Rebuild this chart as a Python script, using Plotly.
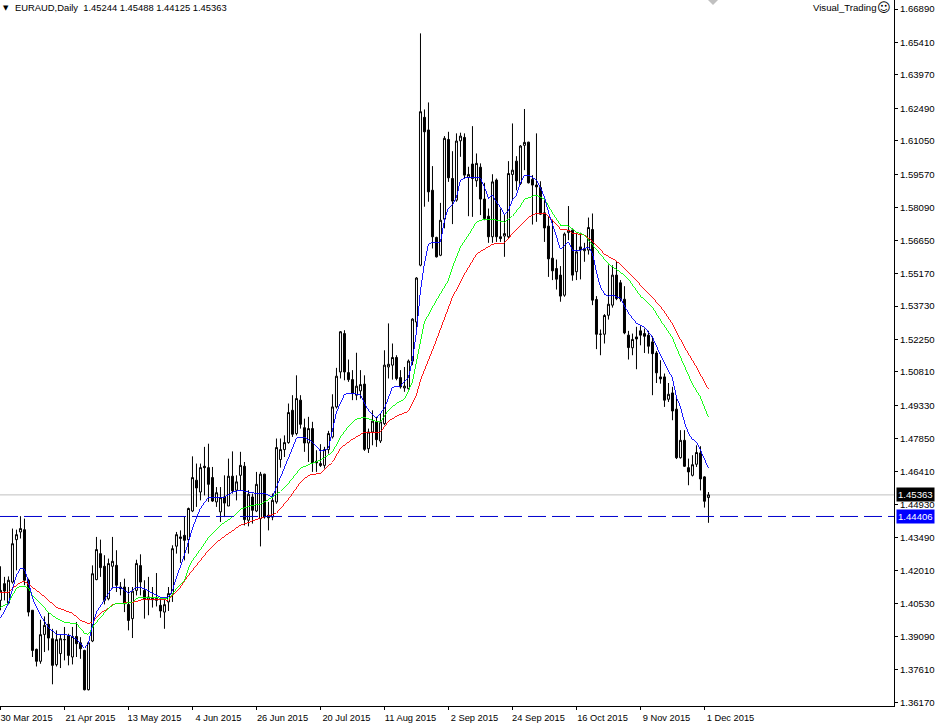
import plotly.graph_objects as go

# Daily EURAUD candles, bar by bar (oldest first)
opens = [1.4069,1.4143,1.4057,1.4150,1.4338,1.4372,1.4382,1.4158,1.4025,1.3852,1.3799,1.3918,1.3963,1.3899,1.3784,1.3833,1.3895,1.3914,1.3818,1.3909,1.3881,1.3847,1.3673,1.3889,1.4161,1.4276,1.4220,1.4076,1.4220,1.4224,1.4128,1.4128,1.4051,1.3988,1.4113,1.4223,1.4113,1.4072,1.4078,1.4069,1.4047,1.4017,1.4062,1.4099,1.4309,1.4343,1.4357,1.4338,
1.4465,1.4601,1.4549,1.4663,1.4657,1.4613,1.4505,1.4461,1.4527,1.4487,1.4619,1.4557,1.4623,1.4663,1.4424,1.4527,1.4465,1.4431,1.4628,1.4446,1.4438,1.4505,1.4693,1.4737,1.4768,1.4911,1.4808,1.4956,1.4834,1.4766,1.4830,1.4685,1.4675,1.4667,1.4737,1.4793,1.4926,1.5081,1.5251,1.5078,1.5047,1.4978,1.4997,1.5027,1.4741,1.4815,1.4860,1.4775,1.4852,1.5103,1.5111,1.5145,1.5056,1.5010,1.5007,1.5129,1.5302,
1.5554,1.6209,1.6153,1.5886,1.5677,1.5598,1.5758,1.6111,1.5938,1.5842,1.6105,1.6120,1.5943,1.6002,1.5928,1.5988,1.5847,1.5771,1.5680,1.5931,1.5680,1.5683,1.5680,1.5956,1.6015,1.5916,1.6085,1.6099,1.5934,1.5909,1.5898,1.5786,1.5727,1.5585,1.5539,1.5510,1.5421,1.5699,1.5709,1.5525,1.5635,1.5618,1.5621,1.5712,
1.5402,1.5248,1.5248,1.5332,1.5377,1.5510,1.5476,1.5403,1.5244,1.5188,1.5236,1.5263,1.5251,1.5244,1.5214,1.5165,1.5059,1.5059,1.4960,1.4988,1.4916,1.4701,1.4778,1.4657,1.4623,1.4672,1.4722,1.4616,1.45244]
highs = [1.4220,1.4173,1.4175,1.4387,1.4382,1.4442,1.4431,1.4165,1.4025,1.3855,1.3983,1.3998,1.4013,1.3943,1.3936,1.3917,1.3951,1.3921,1.3951,1.3973,1.3906,1.3850,1.3884,1.4224,1.4350,1.4338,1.4269,1.4254,1.4350,1.4291,1.4150,1.4165,1.4128,1.4128,1.4249,1.4273,1.4158,1.4173,1.4128,1.4190,1.4076,1.4072,1.4128,1.4313,1.4372,1.4379,1.4439,1.4480,
1.4707,1.4675,1.4675,1.4749,1.4763,1.4660,1.4571,1.4571,1.4623,1.4697,1.4729,1.4623,1.4727,1.4682,1.4557,1.4542,1.4638,1.4638,1.4630,1.4505,1.4542,1.4786,1.4786,1.4800,1.4941,1.4978,1.5066,1.4978,1.4874,1.4882,1.4860,1.4734,1.4761,1.4749,1.4820,1.4982,1.5099,1.5262,1.5266,1.5136,1.5089,1.5166,1.5089,1.5066,1.4830,1.4911,1.4882,1.4897,1.5177,1.5296,1.5207,1.5155,1.5089,1.5103,1.5136,1.5319,1.5501,
1.6581,1.6244,1.6275,1.5993,1.5680,1.5830,1.6126,1.6145,1.6059,1.6138,1.6141,1.6138,1.5990,1.6170,1.6049,1.6005,1.5919,1.5805,1.5957,1.5938,1.5805,1.5776,1.6015,1.6182,1.6037,1.6086,1.6246,1.6101,1.5953,1.6138,1.5926,1.5842,1.5768,1.5756,1.5579,1.5550,1.5699,1.5816,1.5717,1.5695,1.5698,1.5653,1.5765,1.5783,
1.5417,1.5269,1.5337,1.5554,1.5554,1.5573,1.5488,1.5461,1.5263,1.5251,1.5281,1.5284,1.5273,1.5263,1.5239,1.5174,1.5133,1.5074,1.5032,1.5015,1.4970,1.4823,1.4823,1.4697,1.4712,1.4756,1.4752,1.4619,1.45488]
lows = [1.4025,1.4069,1.4051,1.4143,1.4202,1.4343,1.4136,1.3998,1.3818,1.3776,1.3788,1.3840,1.3847,1.3697,1.3776,1.3769,1.3803,1.3781,1.3785,1.3818,1.3810,1.3670,1.3670,1.3884,1.4158,1.4173,1.4051,1.4069,1.4121,1.4106,1.4091,1.4017,1.3936,1.3902,1.4091,1.4091,1.3988,1.4003,1.4037,1.4042,1.3992,1.3943,1.4022,1.4062,1.4276,1.4235,1.4246,1.4276,
1.4460,1.4483,1.4512,1.4534,1.4505,1.4505,1.4483,1.4416,1.4438,1.4487,1.4542,1.4512,1.4554,1.4401,1.4397,1.4409,1.4460,1.4308,1.4431,1.4379,1.4424,1.4497,1.4657,1.4704,1.4763,1.4793,1.4800,1.4830,1.4727,1.4682,1.4638,1.4638,1.4660,1.4653,1.4719,1.4786,1.4919,1.5052,1.5044,1.5037,1.4956,1.4956,1.4963,1.4731,1.4722,1.4756,1.4749,1.4766,1.4845,1.5052,1.5047,1.5044,1.5007,1.4993,1.5003,1.5111,1.5266,
1.5549,1.5813,1.5835,1.5628,1.5588,1.5594,1.5717,1.5923,1.5736,1.5835,1.6034,1.5938,1.5771,1.5768,1.5901,1.5776,1.5753,1.5653,1.5653,1.5657,1.5657,1.5591,1.5672,1.5842,1.5886,1.5909,1.5975,1.5916,1.5734,1.5746,1.5776,1.5657,1.5502,1.5488,1.5446,1.5392,1.5414,1.5665,1.5485,1.5488,1.5491,1.5569,1.5601,1.5377,
1.5182,1.5155,1.5207,1.5313,1.5366,1.5399,1.5392,1.5248,1.5136,1.5155,1.5093,1.5199,1.5165,1.5162,1.4978,1.5032,1.5029,1.4926,1.4948,1.4867,1.4695,1.4697,1.4660,1.4579,1.4618,1.4660,1.4556,1.4480,1.44125]
closes = [1.4113,1.4110,1.4158,1.4320,1.4360,1.4387,1.4158,1.4017,1.3847,1.3799,1.3917,1.3958,1.3902,1.3781,1.3895,1.3899,1.3895,1.3825,1.3909,1.3877,1.3855,1.3673,1.3881,1.4187,1.4294,1.4214,1.4069,1.4232,1.4242,1.4136,1.4121,1.4054,1.3980,1.4110,1.4232,1.4150,1.4076,1.4084,1.4072,1.4078,1.4022,1.4050,1.4099,1.4298,1.4360,1.4350,1.4335,1.4476,
1.4613,1.4567,1.4657,1.4657,1.4583,1.4509,1.4546,1.4524,1.4500,1.4619,1.4554,1.4594,1.4667,1.4427,1.4539,1.4468,1.4583,1.4628,1.4438,1.4435,1.4512,1.4746,1.4737,1.4768,1.4901,1.4805,1.4963,1.4849,1.4766,1.4830,1.4678,1.4678,1.4667,1.4737,1.4808,1.4926,1.5062,1.5259,1.5081,1.5047,1.4985,1.5018,1.5025,1.4738,1.4815,1.4863,1.4781,1.4860,1.5111,1.5115,1.5145,1.5052,1.5015,1.5018,1.5129,1.5315,1.5497,
1.6234,1.6145,1.5879,1.5680,1.5591,1.5753,1.6116,1.5941,1.5838,1.6104,1.6126,1.5953,1.5956,1.5938,1.6005,1.5847,1.5761,1.5680,1.5923,1.5680,1.5672,1.5694,1.5960,1.5975,1.5928,1.6082,1.6098,1.5919,1.5909,1.5901,1.5780,1.5719,1.5582,1.5529,1.5492,1.5417,1.5692,1.5709,1.5510,1.5613,1.5621,1.5624,1.5721,1.5399,
1.5248,1.5248,1.5331,1.5381,1.5510,1.5406,1.5405,1.5254,1.5189,1.5225,1.5227,1.5244,1.5239,1.5195,1.5162,1.5077,1.5050,1.4956,1.4982,1.4908,1.4701,1.4778,1.4663,1.4638,1.4670,1.4724,1.4607,1.4508,1.45363]

# Moving averages: bar number and price at that bar
ma_blue_bar = [0,2,4,5,6,7,8,10,12,14,16,18,20,21,22,23,24,26,28,30,32,34,36,38,40,42,43,44,46,48,50,52,54,56,58,60,62,64,66,68,70,72,73,74,75,76,78,80,81,82,84,86,88,90,92,94,96,98,100,102,103,104,105,106,107,108,110,111,112,113,114,115,116,118,120,121,122,123,124,125,126,127,128,129,130,131,132,133,134,135,136,137,138,139,140,141,142,143,145,147,148,149,150,151,152,153,155,157,159,161,163,165,167,168,169,170,171,172,173,174,175,176,177]
ma_blue = [1.3989,1.4056,1.4180,1.4211,1.4207,1.4149,1.4078,1.4003,1.3949,1.3918,1.3918,1.3910,1.3879,1.3856,1.3879,1.3958,1.4016,1.4069,1.4127,1.4127,1.4100,1.4127,1.4122,1.4100,1.4082,1.4082,1.4113,1.4171,1.4269,1.4388,1.4477,1.4526,1.4526,1.4526,1.4548,1.4557,1.4548,1.4543,1.4543,1.4526,1.4614,1.4699,1.4743,1.4787,1.4792,1.4792,1.4770,1.4730,1.4734,1.4743,1.4903,1.4982,1.4987,1.4978,1.4911,1.4876,1.4920,1.5013,1.5018,1.5058,1.5133,1.5257,1.5443,1.5563,1.5647,1.5656,1.5656,1.5754,1.5807,1.5820,1.5856,1.5931,1.5940,1.5944,1.5940,1.5900,1.5851,1.5865,1.5833,1.5811,1.5776,1.5798,1.5842,1.5865,1.5918,1.5953,1.5953,1.5940,1.5931,1.5896,1.5856,1.5789,1.5736,1.5683,1.5625,1.5643,1.5656,1.5621,1.5621,1.5634,1.5607,1.5523,1.5457,1.5426,1.5417,1.5421,1.5408,1.5341,1.5297,1.5279,1.5235,1.5155,1.5089,1.5053,1.4969,1.4925,1.4858,1.4809,1.4783,1.4770,1.4734,1.4690,1.4654]
ma_green_bar = [0,2,3,4,5,6,7,8,10,12,14,16,18,19,20,21,22,23,24,26,27,28,29,31,33,34,35,37,39,40,42,43,44,46,47,48,49,50,52,55,58,60,63,65,68,70,72,75,78,80,83,85,87,89,91,93,95,97,99,101,103,104,106,109,112,113,115,117,119,121,124,126,128,130,131,134,136,138,140,142,144,146,148,150,152,155,157,160,163,165,168,170,172,173,175,177]
ma_green = [1.4038,1.4056,1.4091,1.4122,1.4131,1.4131,1.4122,1.4091,1.4056,1.4016,1.3989,1.3972,1.3967,1.3967,1.3945,1.3923,1.3918,1.3949,1.3972,1.4012,1.4034,1.4047,1.4056,1.4056,1.4060,1.4078,1.4082,1.4082,1.4082,1.4078,1.4074,1.4096,1.4122,1.4158,1.4211,1.4246,1.4269,1.4295,1.4348,1.4402,1.4437,1.4473,1.4490,1.4495,1.4526,1.4552,1.4588,1.4654,1.4677,1.4690,1.4725,1.4792,1.4841,1.4872,1.4880,1.4867,1.4858,1.4911,1.4942,1.4960,1.5036,1.5124,1.5302,1.5399,1.5488,1.5545,1.5634,1.5687,1.5745,1.5758,1.5754,1.5745,1.5771,1.5816,1.5847,1.5865,1.5847,1.5785,1.5732,1.5727,1.5701,1.5687,1.5643,1.5599,1.5559,1.5523,1.5492,1.5417,1.5368,1.5310,1.5231,1.5146,1.5067,1.5027,1.4969,1.4880]
ma_red_bar = [0,2,3,5,6,8,10,12,14,16,18,20,22,23,24,25,27,28,30,33,36,40,42,43,45,47,50,52,55,60,65,69,72,75,77,80,83,85,88,91,95,97,99,102,104,105,108,111,113,115,116,119,123,126,129,132,134,136,138,140,142,143,146,148,151,154,157,160,163,165,168,171,174,177]
ma_red = [1.4105,1.4105,1.4122,1.4149,1.4153,1.4127,1.4100,1.4069,1.4038,1.4025,1.4012,1.3980,1.3967,1.3972,1.3994,1.4012,1.4034,1.4051,1.4056,1.4060,1.4074,1.4074,1.4069,1.4091,1.4127,1.4180,1.4246,1.4291,1.4340,1.4402,1.4433,1.4455,1.4517,1.4592,1.4623,1.4632,1.4681,1.4743,1.4783,1.4814,1.4814,1.4863,1.4885,1.4907,1.4978,1.5044,1.5177,1.5319,1.5412,1.5479,1.5514,1.5603,1.5647,1.5652,1.5714,1.5767,1.5785,1.5785,1.5754,1.5714,1.5709,1.5696,1.5687,1.5661,1.5603,1.5572,1.5523,1.5466,1.5412,1.5372,1.5293,1.5191,1.5102,1.5004]

y_tick_values = [1.66890,1.65410,1.63970,1.62490,1.61050,1.59570,1.58090,1.56650,1.55170,1.53730,1.52250,1.50810,1.49330,1.47850,1.46410,1.44930,1.43490,1.42010,1.40530,1.39090,1.37610,1.36170]
x_tick_bars = [0,16,32,48,64,80,96,112,128,144,160,176]
x_tick_labels = ["30 Mar 2015","21 Apr 2015","13 May 2015","4 Jun 2015","26 Jun 2015","20 Jul 2015","11 Aug 2015","2 Sep 2015","24 Sep 2015","16 Oct 2015","9 Nov 2015","1 Dec 2015"]
last_price = 1.45363
alert_price = 1.44406
title_text = "EURAUD,Daily  1.45244 1.45488 1.44125 1.45363"
bars = list(range(len(opens)))

FONT = "Liberation Sans"
W, H = 937, 723
PW, PH = 894, 706

fig = go.Figure()
for xs, ys, col in [(ma_red_bar, ma_red, "#ff0000"), (ma_green_bar, ma_green, "#00ff00"), (ma_blue_bar, ma_blue, "#0000ff")]:
    fig.add_trace(go.Scatter(x=xs, y=ys, mode="lines", line=dict(color=col, width=0.9), hoverinfo="skip", showlegend=False))
fig.add_trace(go.Candlestick(
    x=bars, open=opens, high=highs, low=lows, close=closes, whiskerwidth=0,
    increasing=dict(line=dict(color="#000000", width=1), fillcolor="#ffffff"),
    decreasing=dict(line=dict(color="#000000", width=1), fillcolor="#000000"),
    showlegend=False))

fig.update_layout(
    width=W, height=H, margin=dict(l=0, r=W-PW, t=0, b=H-PH, pad=0),
    paper_bgcolor="#ffffff", plot_bgcolor="#ffffff", showlegend=False, boxgap=0.5, boxgroupgap=0,
    font=dict(family=FONT, size=10, color="#000000"),
    xaxis=dict(range=[-0.12, 223.38], rangeslider=dict(visible=False), showgrid=False, zeroline=False,
               tickmode="array", tickvals=x_tick_bars, ticktext=x_tick_labels, ticks="outside", ticklen=3,
               tickwidth=1, tickcolor="#000000", showline=True, linecolor="#000000", linewidth=1,
               ticklabeloverflow="allow", ticklabelshift=26, ticklabelstandoff=0, tickangle=0,
               tickfont=dict(family=FONT, size=9.3)),
    yaxis=dict(range=[1.36009, 1.67289], side="right", showgrid=False, zeroline=False,
               tickmode="array", tickvals=y_tick_values, ticktext=[f"{v:.5f}" for v in y_tick_values],
               ticks="outside", ticklen=3, tickwidth=1, tickcolor="#000000", showline=True, linecolor="#000000",
               linewidth=1, ticklabeloverflow="allow", tickfont=dict(family=FONT, size=9.6)),
    shapes=[
        dict(type="line", xref="paper", x0=0, x1=1, yref="y", y0=last_price, y1=last_price,
             line=dict(color="#c0c0c0", width=1), layer="below"),
        dict(type="line", xref="paper", x0=0, x1=1, yref="y", y0=alert_price, y1=alert_price,
             line=dict(color="#0000cd", width=1, dash="18px,6px"), layer="above"),
        dict(type="path", xref="paper", yref="paper", fillcolor="#c0c0c0", line=dict(width=0),
             path=f"M {708/PW} 1 L {718/PW} 1 L {713/PW} {1-5/PH} Z"),
    ],
    annotations=[
        dict(xref="paper", yref="paper", x=13/PW, y=1-8/PH, xanchor="left", yanchor="middle", showarrow=False,
             text=title_text, font=dict(family=FONT, size=9.4, color="#000000")),
        dict(xref="paper", yref="paper", x=1/PW, y=1-8/PH, xanchor="left", yanchor="middle", showarrow=False,
             text="▼", font=dict(family="DejaVu Sans", size=7, color="#000000")),
        dict(xref="paper", yref="paper", x=878/PW, y=1-8/PH, xanchor="right", yanchor="middle", showarrow=False,
             text="Visual_Trading", font=dict(family=FONT, size=9.6, color="#000000")),
        dict(xref="paper", yref="paper", x=884/PW, y=1-8/PH, xanchor="center", yanchor="middle", showarrow=False,
             text="☺", font=dict(family="DejaVu Sans", size=13, color="#000000")),
        dict(xref="paper", yref="y", x=1, xshift=2, y=last_price, xanchor="left", yanchor="middle", showarrow=False,
             text=f"{last_price:.5f}", bgcolor="#000000", borderpad=1, font=dict(family=FONT, size=9.6, color="#ffffff")),
        dict(xref="paper", yref="y", x=1, xshift=2, y=alert_price, xanchor="left", yanchor="middle", showarrow=False,
             text=f"{alert_price:.5f}", bgcolor="#0000ff", borderpad=1, font=dict(family=FONT, size=9.6, color="#ffffff")),
    ],
)

page_tweaks = (
    "document.body.style.margin='0';document.body.style.overflow='hidden';"
    "var s=document.createElement('style');s.textContent='.js-line{shape-rendering:crispEdges}';"
    "document.head.appendChild(s);"
)
fig.write_html("out.html", post_script=page_tweaks, config={"displayModeBar": False})
